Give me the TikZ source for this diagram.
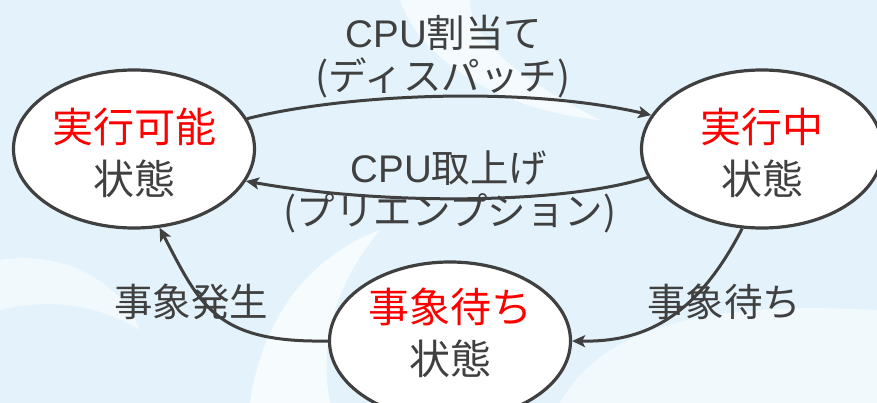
\documentclass[tikz,border=0pt]{standalone}
\usepackage{fontspec}
\setmainfont{Liberation Sans}
\newfontfamily\jp{Noto Sans CJK JP}
\usetikzlibrary{shapes.geometric,arrows.meta}
\definecolor{ink}{RGB}{64,64,64}
\definecolor{bgblue}{RGB}{228,243,251}
\definecolor{hot}{RGB}{255,0,0}
\begin{document}
\begin{tikzpicture}[x=1pt,y=-1pt,
  state/.style={ellipse,draw=ink,fill=white,line width=3.2pt,minimum width=241pt,minimum height=158pt,inner sep=0pt},
  stxt/.style={align=center,text=ink,inner sep=0pt,font=\jp\fontsize{41}{52}\selectfont},
  lbl/.style={text=ink,inner sep=0pt,font=\jp\fontsize{38.5}{44}\selectfont},
  conn/.style={draw=ink,line width=3pt,-{Stealth[length=13pt,width=12pt,inset=3pt]}}]
\useasboundingbox (0,0) rectangle (877,403);
% background watermark
\fill[bgblue] (0,0) rectangle (877,403);
\fill[white,opacity=0.7] (250,403) .. controls (260,330) and (300,260) .. (380,230) .. controls (330,290) and (320,350) .. (330,403) -- cycle;
\fill[white,opacity=0.6] (400,0) .. controls (420,60) and (500,110) .. (600,120) .. controls (520,80) and (470,40) .. (470,0) -- cycle;
\fill[white,opacity=0.5] (560,403) .. controls (600,330) and (700,300) .. (877,310) -- (877,403) -- cycle;
\fill[white,opacity=0.5] (0,260) .. controls (60,250) and (120,280) .. (140,330) .. controls (90,300) and (40,300) .. (0,310) -- cycle;
% states
\node[state] (L) at (134,149) {};
\node[state] (R) at (762,149) {};
\node[state] (B) at (450,341) {};
\node[stxt] (Lt) at (134,153) {\textcolor{hot}{実行可能}\\状態};
\node[stxt] (Rt) at (762,153) {\textcolor{hot}{実行中}\\状態};
\node[stxt] (Bt) at (450,333) {\textcolor{hot}{事象待ち}\\状態};
% connectors
\draw[conn] (L.15) .. controls (340,95) and (520,85) .. (R.163);
\draw[conn] (R.194) .. controls (560,205) and (380,205) .. (L.344);
\draw[conn] (B.west) .. controls (215,343) and (200,305) .. (L.288);
\draw[conn] (R.256) .. controls (694,322) and (640,342) .. (B.east);
% labels
\node[lbl] (t1) at (444,33) {{\rmfamily CPU}割当て};
\node[lbl] (t2) at (443,78) {(ディスパッチ)};
\node[lbl] (t3) at (449,168) {{\rmfamily CPU}取上げ};
\node[lbl] (t4) at (450,213) {(プリエンプション)};
\node[lbl] (t5) at (191,302) {事象発生};
\node[lbl] (t6) at (724,302) {事象待ち};
\end{tikzpicture}
\end{document}
